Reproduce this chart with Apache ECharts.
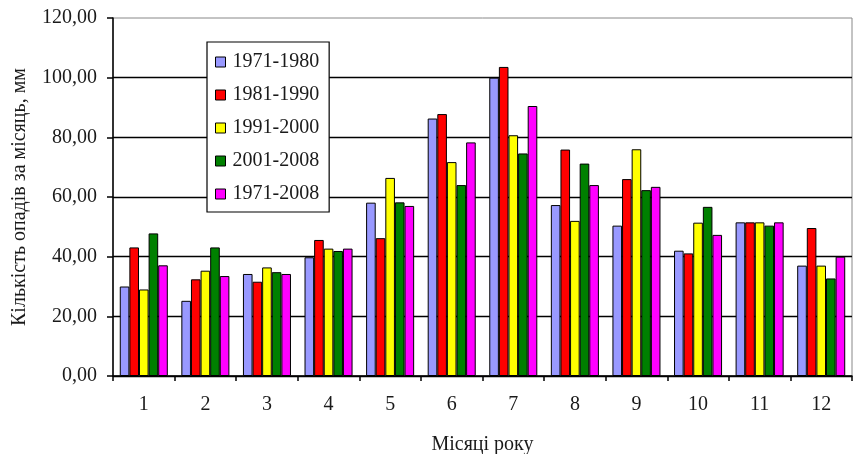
<!DOCTYPE html>
<html>
<head>
<meta charset="utf-8">
<script src="https://cdn.jsdelivr.net/npm/echarts@6/dist/echarts.min.js"></script>
<style>
html,body{margin:0;padding:0;background:#fff;}
#chart{width:854px;height:454px;}
</style>
</head>
<body>
<div id="chart"></div>
<script>
const categories = ['1','2','3','4','5','6','7','8','9','10','11','12'];
const seriesNames = ['1971-1980','1981-1990','1991-2000','2001-2008','1971-2008'];
const s1971_1980 = [30.0, 25.2, 34.2, 39.8, 58.1, 86.3, 100.0, 57.3, 50.4, 42.0, 51.5, 37.0];
const s1981_1990 = [43.1, 32.4, 31.6, 45.6, 46.2, 87.8, 103.6, 75.9, 66.0, 41.1, 51.5, 49.6];
const s1991_2000 = [29.0, 35.3, 36.4, 42.7, 66.4, 71.7, 80.7, 52.0, 76.0, 51.4, 51.5, 37.0];
const s2001_2008 = [47.8, 43.1, 34.8, 41.9, 58.2, 64.0, 74.6, 71.2, 62.3, 56.7, 50.4, 32.7];
const s1971_2008 = [37.1, 33.5, 34.2, 42.7, 57.0, 78.3, 90.5, 64.0, 63.4, 47.3, 51.5, 40.0];
const seriesValues = [s1971_1980, s1981_1990, s1991_2000, s2001_2008, s1971_2008];
const colors = ['#9999FF', '#FF0000', '#FFFF00', '#008000', '#FF00FF'];

const font = "'Liberation Serif', 'Times New Roman', 'DejaVu Serif', serif";
const txt = '#1a1a1a';
const chart = echarts.init(document.getElementById('chart'), null, {renderer: 'canvas'});
chart.setOption({
  animation: false,
  backgroundColor: '#fff',
  textStyle: {fontFamily: font},
  grid: {left: 113, right: 2, top: 18, bottom: 78, outerBoundsMode: 'none', containLabel: false,
         show: true, borderColor: '#888', borderWidth: 1, backgroundColor: 'transparent'},
  legend: {
    orient: 'vertical',
    left: 207, top: 42,
    padding: [10, 10, 8, 8],
    itemGap: 13,
    itemWidth: 10, itemHeight: 10,
    borderColor: '#000', borderWidth: 1.2,
    backgroundColor: '#fff',
    icon: 'rect',
    itemStyle: {borderColor: '#000', borderWidth: 1},
    textStyle: {fontFamily: font, fontSize: 20, color: txt, padding: [0,0,0,2]},
    data: seriesNames
  },
  xAxis: {
    type: 'category',
    data: categories,
    name: 'Місяці року',
    nameLocation: 'middle',
    nameGap: 59,
    nameTextStyle: {fontFamily: font, fontSize: 20, color: txt},
    axisLine: {lineStyle: {color: '#000', width: 1.5}},
    axisTick: {show: true, length: 5, lineStyle: {color: '#000', width: 1.5}},
    axisLabel: {fontFamily: font, fontSize: 20, color: txt, margin: 19},
    splitLine: {show: false}
  },
  yAxis: {
    type: 'value',
    min: 0, max: 120, interval: 20,
    name: 'Кількість опадів за місяць, мм',
    nameLocation: 'middle',
    nameGap: 83,
    nameTextStyle: {fontFamily: font, fontSize: 20, color: txt},
    axisLine: {show: true, lineStyle: {color: '#000', width: 1.5}},
    axisTick: {show: true, length: 6, lineStyle: {color: '#000', width: 1.5}},
    axisLabel: {fontFamily: font, fontSize: 20, color: txt, margin: 16,
      formatter: v => v.toFixed(2).replace('.', ',')},
    splitLine: {show: true, showMaxLine: false, lineStyle: {color: '#000', width: 1.4}}
  },
  series: seriesNames.map((n, i) => ({
    name: n,
    type: 'bar',
    data: seriesValues[i],
    barGap: '0%',
    barCategoryGap: '22%',
    itemStyle: {color: colors[i], borderColor: '#000', borderWidth: 1}
  }))
});
</script>
</body>
</html>
